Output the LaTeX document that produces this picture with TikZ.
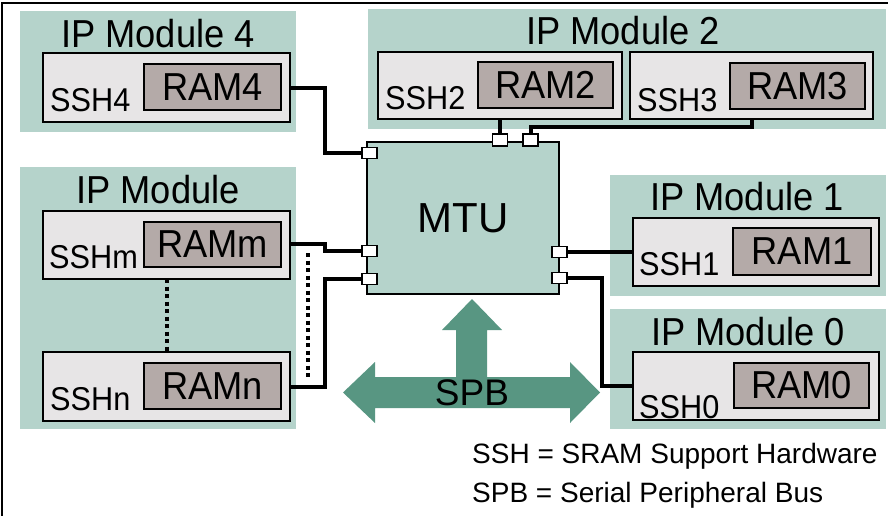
\documentclass[tikz,border=0pt]{standalone}
\usepackage{fontspec}
\setmainfont{Liberation Sans}
\newfontfamily\tallsans{Liberation Sans}[FakeStretch=0.93]
\definecolor{bggreen}{RGB}{181,211,203}
\definecolor{sshgray}{RGB}{231,229,230}
\definecolor{ramgray}{RGB}{180,170,168}
\definecolor{busteal}{RGB}{88,150,130}
\tikzset{
  modbg/.style={fill=bggreen, draw=none, inner sep=0, outer sep=0},
  sshbox/.style={fill=sshgray, draw=black, line width=1.5pt, inner sep=0, outer sep=0},
  rambox/.style={fill=ramgray, draw=black, line width=1.5pt, inner sep=0, outer sep=0, font=\tallsans\fontsize{39}{42}\selectfont},
  portbox/.style={fill=white, draw=black, line width=1.2pt, minimum width=15pt, minimum height=11pt, inner sep=0, outer sep=0},
  mtubox/.style={fill=bggreen, draw=black, line width=1.5pt, inner sep=0, outer sep=0, font=\fontsize{42}{45}\selectfont},
  wire/.style={line width=4pt},
  dotline/.style={line width=4pt, dash pattern=on 4pt off 3.5pt},
  title/.style={inner sep=0, anchor=base, font=\tallsans\fontsize{39}{42}\selectfont},
  sshlabel/.style={inner sep=0, anchor=base west, font=\tallsans\fontsize{33}{36}\selectfont},
  legend/.style={inner sep=0, anchor=base west, font=\fontsize{28}{31}\selectfont},
}
\begin{document}
\begin{tikzpicture}[x=1pt, y=-1pt]
\useasboundingbox (0,0) rectangle (888,516);
\clip (0,0) rectangle (888,516);
\fill[white] (0,0) rectangle (888,516);
\draw[line width=1.2pt] (2,3) rectangle (1000,600);

% module backgrounds
\node[modbg, minimum width=276pt, minimum height=121pt] (m4bg) at (158,71.5) {};
\node[modbg, minimum width=518pt, minimum height=120pt] (m2bg) at (627,69) {};
\node[modbg, minimum width=276pt, minimum height=262pt] (mxbg) at (158,298) {};
\node[modbg, minimum width=276pt, minimum height=121pt] (m1bg) at (748,235.5) {};
\node[modbg, minimum width=276pt, minimum height=120pt] (m0bg) at (748,369) {};

% titles
\node[title] (t4) at (158,48) {IP Module 4};
\node[title] (t2) at (623,45) {IP Module 2};
\node[title] (tx) at (158,203) {IP Module};
\node[title] (t1) at (747,210) {IP Module 1};
\node[title] (t0) at (748,345) {IP Module 0};

% SSH boxes
\node[sshbox, minimum width=247pt, minimum height=69pt] (ssh4) at (166.5,87.5) {};
\node[sshbox, minimum width=244pt, minimum height=67pt] (ssh2) at (500,85.5) {};
\node[sshbox, minimum width=243pt, minimum height=67pt] (ssh3) at (751.5,85.5) {};
\node[sshbox, minimum width=247pt, minimum height=68pt] (sshm) at (166.5,245) {};
\node[sshbox, minimum width=247pt, minimum height=69pt] (sshn) at (166.5,386.5) {};
\node[sshbox, minimum width=246pt, minimum height=68pt] (ssh1) at (756,252) {};
\node[sshbox, minimum width=246pt, minimum height=68pt] (ssh0) at (756,386) {};

% RAM boxes
\node[rambox, minimum width=137pt, minimum height=46pt] (ram4) at (212.5,87) {RAM4};
\node[rambox, minimum width=135pt, minimum height=46pt] (ram2) at (545.5,85) {RAM2};
\node[rambox, minimum width=135pt, minimum height=46pt] (ram3) at (797.5,86) {RAM3};
\node[rambox, minimum width=137pt, minimum height=45pt] (ramm) at (212.5,244.5) {RAMm};
\node[rambox, minimum width=137pt, minimum height=46pt] (ramn) at (212.5,386) {RAMn};
\node[rambox, minimum width=138pt, minimum height=47pt] (ram1) at (802,251.5) {RAM1};
\node[rambox, minimum width=135pt, minimum height=45pt] (ram0) at (801.5,385.5) {RAM0};

% SSH labels
\node[sshlabel] (l4) at (50,112) {SSH4};
\node[sshlabel] (l2) at (385,110) {SSH2};
\node[sshlabel] (l3) at (637,111) {SSH3};
\node[sshlabel] (lm) at (49,268) {SSHm};
\node[sshlabel] (ln) at (50,410) {SSHn};
\node[sshlabel] (l1) at (639,275) {SSH1};
\node[sshlabel] (l0) at (639,418) {SSH0};

% MTU
\node[mtubox, minimum width=192pt, minimum height=152pt] (mtu) at (463,218) {MTU};

% SPB arrows
\fill[busteal] (343,392.5) -- (375,362) -- (375,377) -- (456,377) -- (456,330) -- (442,330)
  -- (472,299) -- (502,330) -- (487,330) -- (487,377) -- (570,377) -- (570,362)
  -- (600,392.5) -- (570,423) -- (570,408) -- (375,408) -- (375,423) -- cycle;
\node[title, font=\fontsize{37}{40}\selectfont] (spb) at (472,405) {SPB};

% ports
\node[portbox] (p4) at (369.5,153) {};
\node[portbox] (pm) at (369.5,251) {};
\node[portbox] (pn) at (369.5,279) {};
\node[portbox] (p1) at (559.5,252) {};
\node[portbox] (p0) at (559.5,278) {};
\node[portbox, minimum height=12pt] (p2) at (500,140) {};
\node[portbox, minimum height=12pt] (p3) at (530.5,140) {};

% wires
\draw[wire] (ssh4.east |- 0,88) -- (325,88) -- (325,153) -- (p4.west);
\draw[wire] (ssh2.south) -- (p2.north);
\draw[wire] (ssh3.south) -- (751.5,127) -- (530.5,127) -- (p3.north);
\draw[wire] (sshm.east |- 0,244) -- (325,244) -- (325,251) -- (pm.west);
\draw[wire] (sshn.east |- 0,387) -- (325,387) -- (325,279) -- (pn.west);
\draw[wire] (p1.east) -- (ssh1.west);
\draw[wire] (p0.east) -- (602,278) -- (602,386) -- (ssh0.west);

% dotted lines
\draw[dotline] (308,253) -- (308,378);
\draw[dotline] (sshm.south) -- (sshn.north);

% legend
\node[legend] (lg1) at (472,463) {SSH = SRAM Support Hardware};
\node[legend] (lg2) at (472,502) {SPB = Serial Peripheral Bus};
\end{tikzpicture}
\end{document}
